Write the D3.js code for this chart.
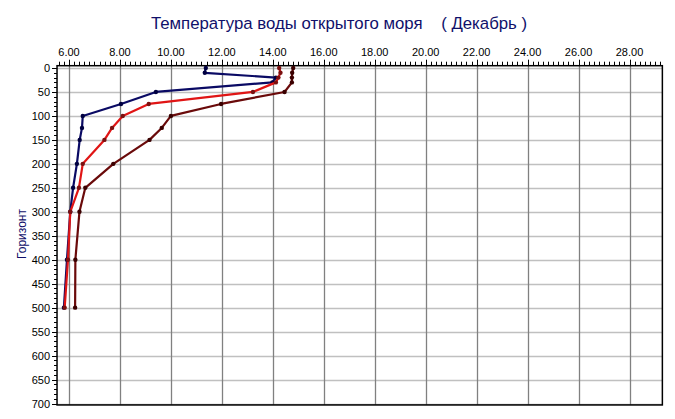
<!DOCTYPE html>
<html><head><meta charset="utf-8">
<script src="https://cdn.jsdelivr.net/npm/d3@7"></script>
<style>
html,body{margin:0;padding:0;background:#fff;}
svg{display:block;font-family:Arial,"Liberation Sans",sans-serif;}
</style></head>
<body><svg id="c" width="675" height="419"></svg>
<script>
const depths = [0,10,20,30,50,75,100,125,150,200,250,300,400,500];
const seriesBlue = [11.37,11.33,14.12,13.98,9.41,8.04,6.54,6.51,6.42,6.31,6.16,6.05,5.92,5.80];
const seriesRed = [14.25,14.3,14.22,14.12,13.22,9.13,8.11,7.69,7.39,6.54,6.39,6.05,5.96,5.83];
const seriesMaroon = [14.8,14.76,14.75,14.75,14.46,11.97,10.0,9.64,9.16,7.74,6.64,6.41,6.25,6.24];
const xTicks = [6,8,10,12,14,16,18,20,22,24,26,28];
const yTicks = [0,50,100,150,200,250,300,350,400,450,500,550,600,650,700];
const title = "Температура воды открытого моря    ( Декабрь )";
const yLabel = "Горизонт";

const svg = d3.select("#c");
const x = d3.scaleLinear().domain([6,28]).range([69,629.5]);
const y = d3.scaleLinear().domain([0,700]).range([68,403.5]);
const L = x(5.53), R = x(29.29), T = y(-4.8), B = y(703);

// grid
svg.append("g").selectAll("line").data(yTicks).join("line")
  .attr("x1",L).attr("x2",R).attr("y1",d=>Math.round(y(d))+0.5).attr("y2",d=>Math.round(y(d))+0.5)
  .attr("stroke","#c0c0c0").attr("stroke-width",1.3);
svg.append("g").selectAll("line").data(xTicks).join("line")
  .attr("x1",d=>Math.round(x(d))+0.5).attr("x2",d=>Math.round(x(d))+0.5).attr("y1",T).attr("y2",B)
  .attr("stroke","#808080").attr("stroke-width",1.3);

// frame
svg.append("rect").attr("x",L).attr("y",T).attr("width",R-L).attr("height",B-T)
  .attr("fill","none").attr("stroke","#000").attr("stroke-width",1.5);

// top axis minor/major ticks
const minorX = d3.range(56,293,2).map(v=>v/10).filter(v=>x(v)>=L && x(v)<=R);
svg.append("g").selectAll("line").data(minorX).join("line")
  .attr("x1",d=>Math.round(x(d))+0.5).attr("x2",d=>Math.round(x(d))+0.5)
  .attr("y1",T).attr("y2",T-4).attr("stroke","#000").attr("stroke-width",1);
svg.append("g").selectAll("line").data(xTicks).join("line")
  .attr("x1",d=>Math.round(x(d))+0.5).attr("x2",d=>Math.round(x(d))+0.5)
  .attr("y1",T).attr("y2",T-6).attr("stroke","#000").attr("stroke-width",1);
svg.append("g").selectAll("text").data(xTicks).join("text")
  .attr("x",d=>x(d)).attr("y",T-10).attr("text-anchor","middle")
  .attr("font-size","11px").attr("fill","#000").text(d=>d.toFixed(2));

// left axis ticks
const minorY = d3.range(0,701,10);
svg.append("g").selectAll("line").data(minorY).join("line")
  .attr("x1",L).attr("x2",L-3).attr("y1",d=>Math.round(y(d))+0.5).attr("y2",d=>Math.round(y(d))+0.5)
  .attr("stroke","#000").attr("stroke-width",1);
svg.append("g").selectAll("line").data(yTicks).join("line")
  .attr("x1",L).attr("x2",L-5).attr("y1",d=>Math.round(y(d))+0.5).attr("y2",d=>Math.round(y(d))+0.5)
  .attr("stroke","#000").attr("stroke-width",1);
svg.append("g").selectAll("text").data(yTicks).join("text")
  .attr("x",L-7).attr("y",d=>y(d)+4).attr("text-anchor","end")
  .attr("font-size","11px").attr("fill","#000").text(d=>d);

// title & y label
svg.append("text").attr("x",339).attr("y",29).attr("text-anchor","middle")
  .attr("font-size","16.8px").attr("fill","#10106a").style("white-space","pre").text(title);
svg.append("text").attr("transform","translate(26,234) rotate(-90)").attr("text-anchor","middle")
  .attr("font-size","12px").attr("fill","#10106a").text(yLabel);

// series
const series = [
  {vals:seriesBlue, color:"#0a0a64", dot:"#000040"},
  {vals:seriesRed, color:"#e01515", dot:"#7a1010"},
  {vals:seriesMaroon, color:"#6a0a0a", dot:"#3a0000"}
];
const line = d3.line().x(d=>x(d[0])).y(d=>y(d[1]));
series.forEach(s=>{
  const pts = s.vals.map((v,i)=>[v,depths[i]]);
  svg.append("path").datum(pts).attr("d",line).attr("fill","none")
    .attr("stroke",s.color).attr("stroke-width",2.2).attr("stroke-linejoin","round");
  svg.append("g").selectAll("circle").data(pts).join("circle")
    .attr("cx",d=>x(d[0])).attr("cy",d=>y(d[1])).attr("r",2.2).attr("fill",s.dot);
});
</script></body></html>
